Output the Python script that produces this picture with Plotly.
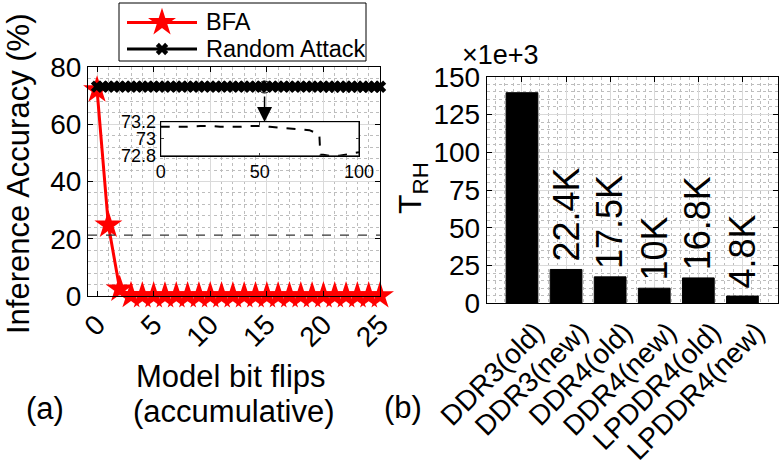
import plotly.graph_objects as go

# ---- data (a): accuracy vs. bit flips ----
bfa_x = [0, 1, 2, 3, 4, 5, 6, 7, 8, 9, 10, 11, 12, 13, 14, 15, 16, 17, 18, 19, 20, 21, 22, 23, 24, 25]
bfa_acc = [72.0, 24.8, 2.4, 0.2, 0.1, 0.1, 0.1, 0.1, 0.1, 0.1, 0.1, 0.1, 0.1,
           0.1, 0.1, 0.1, 0.1, 0.1, 0.1, 0.1, 0.1, 0.1, 0.1, 0.1, 0.1, 0.1]

rand_x = [0, 0.5, 1, 1.5, 2, 2.5, 3, 3.5, 4, 4.5, 5, 5.5, 6, 6.5, 7, 7.5, 8, 8.5,
          9, 9.5, 10, 10.5, 11, 11.5, 12, 12.5, 13, 13.5, 14, 14.5, 15, 15.5, 16,
          16.5, 17, 17.5, 18, 18.5, 19, 19.5, 20, 20.5, 21, 21.5, 22, 22.5, 23,
          23.5, 24, 24.5, 25]
rand_acc = [73.14, 73.14, 73.14, 73.15, 73.14, 73.14, 73.15, 73.14, 73.14, 73.15,
            73.14, 73.14, 73.15, 73.15, 73.14, 73.14, 73.14, 73.15, 73.14, 73.14,
            73.14, 73.15, 73.14, 73.14, 73.15, 73.14, 73.14, 73.14, 73.15, 73.14,
            73.14, 73.14, 73.15, 73.14, 73.14, 73.15, 73.14, 73.14, 73.14, 73.14,
            73.13, 73.13, 73.12, 73.12, 73.11, 73.11, 73.1, 73.1, 73.09, 73.08, 73.07]

chance_acc = 21.3

# inset: random attack zoomed, 0..100 flips
inset_x = [0, 3, 8, 12, 20, 25, 30, 35, 40, 45, 50, 55, 60, 65, 70, 75, 78, 79, 80, 80.5, 82, 85, 90, 95, 100]
inset_acc = [73.14, 73.14, 73.14, 73.14, 73.15, 73.15, 73.14, 73.14, 73.14, 73.15,
             73.15, 73.14, 73.13, 73.12, 73.11, 73.1, 73.07, 73.06, 73.05, 72.81,
             72.81, 72.8, 72.8, 72.82, 72.84]
inset_xrange = [0, 100]
inset_yrange = [72.8, 73.2]

# ---- data (b): rowhammer threshold ----
dram = ["DDR3(old)", "DDR3(new)", "DDR4(old)", "DDR4(new)", "LPDDR4(old)", "LPDDR4(new)"]
t_rh = [139.4, 22.4, 17.5, 10.0, 16.8, 4.8]
t_rh_labels = ["", "22.4K", "17.5K", "10K", "16.8K", "4.8K"]
dram_pos = list(range(len(dram)))

FONT = "Liberation Sans, Arial, sans-serif"
W, H = 781, 465

bfa_line = dict(color="#ff0000", width=3)
bfa_marker = dict(symbol="star", size=21, color="#ff0000")
rand_line = dict(color="black", width=3)
rand_marker = dict(symbol="x", size=11, color="black")

fig = go.Figure()

fig.add_trace(go.Scatter(
    x=bfa_x, y=bfa_acc, mode="lines+markers", name="BFA",
    line=bfa_line, marker=bfa_marker,
    cliponaxis=False, xaxis="x", yaxis="y"))

fig.add_trace(go.Scatter(
    x=rand_x, y=rand_acc, mode="lines+markers", name="Random Attack",
    line=rand_line, marker=rand_marker,
    cliponaxis=False, xaxis="x", yaxis="y"))

fig.add_trace(go.Scatter(
    x=inset_x, y=inset_acc, mode="lines",
    line=dict(color="black", width=2, dash="dash"),
    xaxis="x3", yaxis="y3"))

fig.add_trace(go.Bar(
    x=dram_pos, y=t_rh, width=0.72,
    marker=dict(color="black", line=dict(color="black", width=1)),
    xaxis="x2", yaxis="y2"))

# legend key samples, drawn on a pixel-space helper axis (x4/y4)
leg_x0, leg_x1 = 119, 366
leg_y0, leg_y1 = 3, 61
key_x0, key_xm, key_x1 = 127, 162, 197
key_rows = [22.5, 49]
for ln, mk, yk in zip([bfa_line, rand_line], [bfa_marker, rand_marker], key_rows):
    fig.add_trace(go.Scatter(x=[key_x0, key_x1], y=[yk, yk], mode="lines", line=ln,
                             xaxis="x4", yaxis="y4"))
    fig.add_trace(go.Scatter(x=[key_xm], y=[yk], mode="markers", marker=mk,
                             cliponaxis=False, xaxis="x4", yaxis="y4"))

grid_major = "#dadada"
grid_minor = "#bdbdbd"


def tfont(size):
    return dict(family=FONT, size=size, color="black")


common = dict(showline=True, linecolor="black", linewidth=1, mirror="ticks",
              ticks="inside", ticklen=5, tickcolor="black", automargin=False,
              showgrid=True, gridcolor=grid_major, gridwidth=1, zeroline=False)
inset_common = dict(showline=True, linecolor="black", mirror="ticks", automargin=False,
                    ticks="inside", ticklen=3, showgrid=False, zeroline=False,
                    tickfont=tfont(18))

fig.update_layout(
    width=W, height=H,
    margin=dict(l=0, r=0, t=0, b=0),
    paper_bgcolor="white", plot_bgcolor="rgba(0,0,0,0)",
    font=dict(family=FONT, color="black"),
    showlegend=False,
    xaxis=dict(domain=[88 / W, 380 / W], range=[-0.8, 25], tickvals=[0, 5, 10, 15, 20, 25],
               tickangle=-45, anchor="y", tickfont=tfont(28),
               minor=dict(dtick=1, showgrid=True, gridcolor=grid_minor, griddash="dot", ticks=""),
               **common),
    yaxis=dict(domain=[1 - 296 / H, 1 - 67 / H], range=[0, 80], tickvals=[0, 20, 40, 60, 80],
               anchor="x", tickfont=tfont(28),
               minor=dict(dtick=4, showgrid=True, gridcolor=grid_minor, griddash="dot", ticks=""),
               **common),
    xaxis2=dict(domain=[486.7 / W, 777.7 / W], range=[-0.8, 5.8], tickvals=dram_pos,
                ticktext=dram, tickangle=-45, anchor="y2", tickfont=tfont(28),
                ticklabelshift=14,
                minor=dict(dtick=0.2, showgrid=True, gridcolor=grid_minor, griddash="dot", ticks=""),
                **common),
    yaxis2=dict(domain=[1 - 303.3 / H, 1 - 76.7 / H], range=[0, 150],
                tickvals=[0, 25, 50, 75, 100, 125, 150], anchor="x2", tickfont=tfont(28),
                minor=dict(dtick=5, showgrid=True, gridcolor=grid_minor, griddash="dot", ticks=""),
                **common),
    xaxis3=dict(domain=[160.7 / W, 359 / W], range=inset_xrange, tickvals=[0, 50, 100],
                anchor="y3", **inset_common),
    yaxis3=dict(domain=[1 - 155.7 / H, 1 - 121.7 / H], range=inset_yrange,
                tickvals=[72.8, 73, 73.2], ticktext=["72.8", "73", "73.2"],
                anchor="x3", **inset_common),
    xaxis4=dict(domain=[0, 1], range=[0, W], visible=False, anchor="y4", fixedrange=True),
    yaxis4=dict(domain=[0, 1], range=[H, 0], visible=False, anchor="x4", fixedrange=True),
)

shapes = [
    # white background of inset (drawn in the inset subplot, under its line)
    dict(type="rect", xref="x3", yref="y3",
         x0=inset_xrange[0], x1=inset_xrange[1], y0=inset_yrange[0], y1=inset_yrange[1],
         fillcolor="white", line=dict(color="black", width=1), layer="below"),
    # legend box
    dict(type="rect", xref="x4", yref="y4", x0=leg_x0, x1=leg_x1, y0=leg_y0, y1=leg_y1,
         fillcolor="white", line=dict(color="black", width=1), layer="below"),
    # chance-level dashed line
    dict(type="line", xref="x", yref="y", x0=-0.8, x1=25, y0=chance_acc, y1=chance_acc,
         line=dict(color="#333333", width=1.2, dash="dash")),
    # circle around zoom point
    dict(type="circle", xref="x", yref="y", x0=14.25, x1=15.35, y0=70.9, y1=75.1,
         line=dict(color="black", width=1)),
]
fig.update_layout(shapes=shapes)

ann = []
# arrow from circle to inset
ann.append(dict(x=14.8, y=60.8, xref="x", yref="y", ax=0, ay=-27, text="",
                showarrow=True, arrowhead=2, arrowsize=2, arrowwidth=1.5, arrowcolor="black"))

# bar value labels
for xp, v, lab in zip(dram_pos, t_rh, t_rh_labels):
    if lab:
        ann.append(dict(x=xp, y=v, xref="x2", yref="y2", text=lab, textangle=-90,
                        showarrow=False, xanchor="center", yanchor="bottom", yshift=6,
                        font=tfont(36)))


def paper_text(txt, px, py, size, angle=0, xanchor="center"):
    ann.append(dict(x=px / W, y=1 - py / H, xref="paper", yref="paper", text=txt,
                    textangle=angle, showarrow=False, xanchor=xanchor, yanchor="middle",
                    font=tfont(size)))


# legend labels
for name, yk in zip(["BFA", "Random Attack"], key_rows):
    paper_text(name, 204, yk, 23.5, xanchor="left")

paper_text("Inference Accuracy (%)", 18, 174, 31, angle=-90)
paper_text("Model bit flips", 231, 376, 31)
paper_text("(accumulative)", 234, 411, 31)
paper_text("(a)", 45, 408, 31)
paper_text("(b)", 403, 407, 31)
paper_text("T<sub>RH</sub>", 412, 188, 32, angle=-90)
paper_text("\u00d71e+3", 460, 55, 27, xanchor="left")

fig.update_layout(annotations=ann)

fig.write_html("out.html", config={"displayModeBar": False},
               post_script="document.body.style.margin='0';document.body.style.overflow='hidden';")
